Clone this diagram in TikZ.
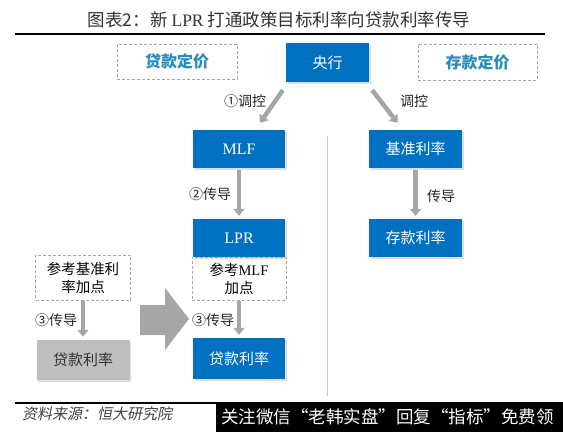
\documentclass[tikz,border=0pt]{standalone}
\usepackage{fontspec}
\setmainfont{Liberation Serif}
\newfontfamily\cjk{Noto Sans CJK SC}
\newfontfamily\cjkit[FakeSlant=0.2]{Noto Sans CJK SC}
\usetikzlibrary{arrows.meta,calc,shadows}
\definecolor{bblue}{RGB}{0,112,192}
\definecolor{tealtxt}{RGB}{40,140,190}
\definecolor{garrow}{RGB}{166,166,166}
\definecolor{gbox}{RGB}{190,190,190}
\tikzset{
  shad/.style={drop shadow={opacity=0.25, shadow xshift=1.5pt, shadow yshift=-1.5pt}},
  bluebox/.style={shad, fill=bblue, text=white, minimum width=92pt, minimum height=38pt, inner sep=0pt, font=\cjk\fontsize{15}{17}\selectfont},
  dashbox/.style={draw=gray!70, densely dashed, line width=0.6pt, inner sep=0pt, align=center, font=\cjk\fontsize{14.5}{18}\selectfont},
  graybox/.style={shad, fill=gbox, text=black!80, minimum width=93pt, minimum height=40pt, inner sep=0pt, font=\cjk\fontsize{15}{17}\selectfont},
  garr/.style={draw=garrow, line width=4.5pt, -{Triangle[width=11pt,length=7pt]}},
  lbl/.style={font=\cjk\fontsize{14}{16}\selectfont, text=black!85, inner sep=0pt},
}
\begin{document}
\begin{tikzpicture}[x=1pt,y=-1pt]
\useasboundingbox (0,0) rectangle (563,432);
\fill[white] (0,0) rectangle (563,432);
% title
\node[font=\cjk\fontsize{17.5}{19}\selectfont, text=black!80, inner sep=0pt] (title) at (279,20) {图表2：新 {\rmfamily LPR} 打通政策目标利率向贷款利率传导};
\draw[line width=2pt] (15,34) -- (545,34);
% top row
\node[dashbox, minimum width=120pt, minimum height=35pt, text=tealtxt, font=\cjk\bfseries\fontsize{16}{18}\selectfont] (dkdj) at (177,61.5) {贷款定价};
\node[bluebox, minimum width=83pt, minimum height=39pt] (yh) at (327.5,62.5) {央行};
\node[dashbox, minimum width=119pt, minimum height=36pt, text=tealtxt, font=\cjk\bfseries\fontsize{16}{18}\selectfont] (ckdj) at (477.5,62) {存款定价};
% middle column
\node[bluebox] (mlf) at (239,149) {\rmfamily\fontsize{16}{18}\selectfont MLF};
\node[bluebox] (lpr) at (239,238) {\rmfamily\fontsize{16}{18}\selectfont LPR};
\node[dashbox, minimum width=94pt, minimum height=43pt] (ref2) at (239,278.5) {参考{\rmfamily MLF}\\加点};
\node[bluebox, minimum height=41pt] (dk2) at (239,358.5) {贷款利率};
% left column
\node[dashbox, minimum width=95pt, minimum height=45pt] (ref1) at (83,277.5) {参考基准利\\率加点};
\node[graybox] (dk1) at (83,360) {贷款利率};
% right column
\node[bluebox, minimum width=93pt] (jz) at (415.5,149) {基准利率};
\node[bluebox, minimum width=93pt] (ck) at (415.5,238) {存款利率};
% separator
\draw[gray!45, line width=1.2pt] (327.5,136) -- (327.5,396);
% arrows
\draw[garr] ($(yh.south west)+(-3,8)$) -- ($(mlf.north)+(21,-7)$);
\draw[garr] ($(yh.south east)+(3,8)$) -- ($(jz.north)+(-18,-7)$);
\draw[garr] ($(mlf.south)+(0,2)$) -- ($(lpr.north)+(0,-3)$);
\draw[garr] ($(ref2.south)+(0,1)$) -- ($(dk2.north)+(0,-3)$);
\draw[garr] ($(ref1.south)+(0,1)$) -- ($(dk1.north)+(0,-3)$);
\draw[garr] ($(jz.south)+(0,2)$) -- ($(ck.north)+(0,-3)$);
% labels
\node[lbl] (l1) at (245,101) {①调控};
\node[lbl] (l2) at (414,101) {调控};
\node[lbl] (l3) at (210,194) {②传导};
\node[lbl] (l4) at (441,196) {传导};
\node[lbl] (l5) at (213,320) {③传导};
\node[lbl] (l6) at (56,320) {③传导};
% big arrow
\fill[garrow] (140,305) -- (165,305) -- (165,288) -- (189,319) -- (165,350) -- (165,335) -- (140,335) -- cycle;
% bottom
\draw[line width=2pt] (15,403) -- (545,403);
\node[font=\cjkit\fontsize{15}{17}\selectfont, text=black!75, anchor=west, inner sep=0pt] (src) at (22,414) {资料来源：恒大研究院};
\fill[black] (216,402) rectangle (563,432);
\node[font=\cjk\fontsize{17.5}{19}\selectfont, text=white, anchor=west, inner sep=0pt] (wm) at (221,417) {关注微信“老韩实盘”回复“指标”免费领};
\end{tikzpicture}
\end{document}
